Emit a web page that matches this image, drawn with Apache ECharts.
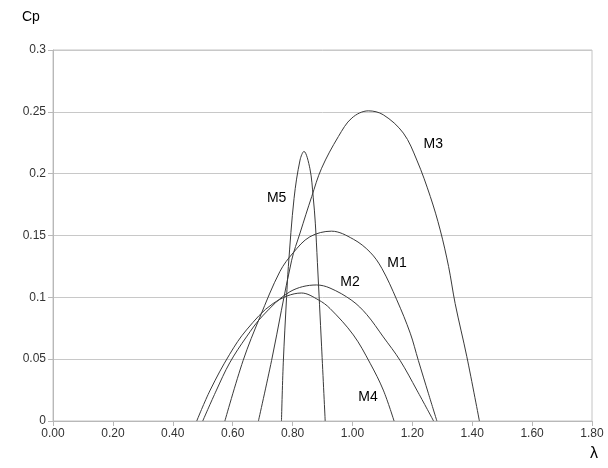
<!DOCTYPE html>
<html>
<head>
<meta charset="utf-8">
<script src="https://cdn.jsdelivr.net/npm/echarts@6/dist/echarts.min.js"></script>
<style>html,body{margin:0;padding:0;background:#fff}#c{width:608px;height:468px}</style>
</head>
<body>
<div id="c"></div>
<script>
var xTicks = [0, 0.2, 0.4, 0.6, 0.8, 1.0, 1.2, 1.4, 1.6, 1.8];
var yTicks = [0, 0.05, 0.1, 0.15, 0.2, 0.25, 0.3];

var m1X = [0.574, 0.635, 0.691, 0.758, 0.802, 0.858, 0.93, 1.003, 1.059, 1.098, 1.148, 1.193, 1.22, 1.254, 1.282];
var m1Y = [0, 0.049, 0.084, 0.121, 0.136, 0.149, 0.1535, 0.147, 0.1365, 0.1235, 0.098, 0.071, 0.049, 0.022, 0];

var m2X = [0.50, 0.546, 0.59, 0.646, 0.70, 0.791, 0.88, 0.925, 0.998, 1.048, 1.103, 1.159, 1.215, 1.271];
var m2Y = [0, 0.025, 0.047, 0.068, 0.085, 0.1045, 0.110, 0.1075, 0.0975, 0.086, 0.068, 0.049, 0.025, 0];

var m3X = [0.686, 0.73, 0.797, 0.825, 0.864, 0.897, 0.953, 0.998, 1.053, 1.103, 1.17, 1.215, 1.26, 1.293, 1.321, 1.343, 1.382, 1.424];
var m3Y = [0, 0.049, 0.130, 0.152, 0.1815, 0.2044, 0.230, 0.245, 0.2508, 0.2476, 0.2328, 0.211, 0.1815, 0.1545, 0.125, 0.095, 0.052, 0];

var m4X = [0.48, 0.525, 0.59, 0.646, 0.735, 0.83, 0.886, 0.925, 1.003, 1.059, 1.103, 1.139];
var m4Y = [0, 0.025, 0.054, 0.0736, 0.095, 0.1035, 0.098, 0.091, 0.0696, 0.0467, 0.025, 0];

var m5X = [0.763, 0.769, 0.780, 0.786, 0.805, 0.825, 0.838, 0.858, 0.869, 0.876, 0.883, 0.897, 0.909];
var m5Y = [0, 0.047, 0.100, 0.125, 0.180, 0.211, 0.218, 0.204, 0.181, 0.16, 0.128, 0.06, 0];

var seriesNames = ['M1', 'M2', 'M3', 'M4', 'M5'];
var labelPos = [[1.149, 0.128], [0.992, 0.1125], [1.27, 0.224], [1.052, 0.0194], [0.747, 0.180]];

function pairs(xs, ys) { return xs.map(function (x, i) { return [x, ys[i]]; }); }
var allX = [m1X, m2X, m3X, m4X, m5X];
var allY = [m1Y, m2Y, m3Y, m4Y, m5Y];

var chart = echarts.init(document.getElementById('c'));
var font = 'Liberation Sans, Arial, sans-serif';
chart.setOption({
  animation: false,
  backgroundColor: '#fff',
  grid: { left: 53, right: 16, top: 50, bottom: 47, show: true, borderColor: '#c4c4c4', borderWidth: 1 },
  xAxis: {
    type: 'value', min: 0, max: 1.8, interval: 0.2,
    axisLine: { lineStyle: { color: '#b8b8b8' } },
    axisTick: { show: true, length: 5, lineStyle: { color: '#b8b8b8' } },
    splitLine: { show: false },
    axisLabel: { color: '#333', fontFamily: font, fontSize: 12, margin: 7, formatter: function (v) { return v.toFixed(2); } }
  },
  yAxis: {
    type: 'value', min: 0, max: 0.3, interval: 0.05,
    axisLine: { show: true, lineStyle: { color: '#b8b8b8' } },
    axisTick: { show: true, length: 5, lineStyle: { color: '#b8b8b8' } },
    splitLine: { lineStyle: { color: '#c8c8c8' } },
    axisLabel: { color: '#333', fontFamily: font, fontSize: 12, margin: 7, formatter: function (v) { return String(parseFloat(v.toFixed(2))); } }
  },
  graphic: [
    { type: 'text', left: 22, top: 10, style: { text: 'Cp', fontFamily: font, fontSize: 14, fill: '#000' } },
    { type: 'text', left: 590, top: 446, style: { text: 'λ', fontFamily: font, fontSize: 16, fill: '#000' } }
  ],
  series: seriesNames.map(function (n, i) {
    return {
      name: n, type: 'line', data: pairs(allX[i], allY[i]), smooth: 0.35, showSymbol: false,
      lineStyle: { color: '#3a3a3a', width: 1 },
      markPoint: {
        symbol: 'circle', symbolSize: 0,
        data: [{ coord: labelPos[i], value: n }],
        label: { show: true, position: 'inside', formatter: n, color: '#000', fontFamily: font, fontSize: 14 }
      }
    };
  })
});
</script>
</body>
</html>
